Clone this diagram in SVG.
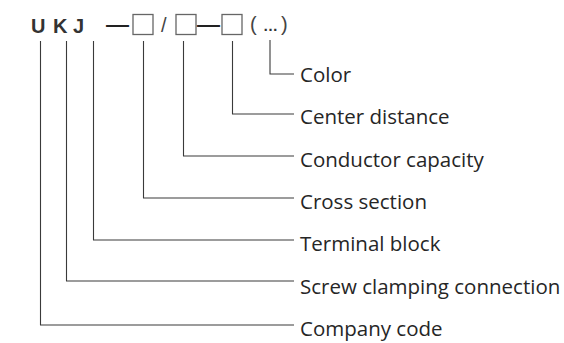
<svg xmlns="http://www.w3.org/2000/svg" width="564" height="343" viewBox="0 0 564 343">
<style>
.lbl{font-family:"Open Sans","Liberation Sans",sans-serif;font-size:20.5px;fill:#262626}
.code{font-family:"Liberation Sans",Arial,sans-serif;font-size:20px;font-weight:bold;fill:#333}
.sym{font-family:"Liberation Sans",Arial,sans-serif;font-size:20px;fill:#444}
.box{fill:none;stroke:#666;stroke-width:1.3}
.conn{fill:none;stroke:#3a3a3a;stroke-width:1.1}
</style>
<rect width="564" height="343" fill="#fff"/>
<g id="code">
<text class="code" x="31" y="32.5">U</text>
<text class="code" x="53" y="32.5">K</text>
<text class="code" x="73" y="32.5">J</text>
<text class="sym" x="106" y="31" textLength="23" lengthAdjust="spacingAndGlyphs" style="font-weight:bold;fill:#222">—</text>
<rect class="box" x="133" y="14.5" width="20" height="20"/>
<text class="sym" x="161" y="32">/</text>
<rect class="box" x="176" y="14.5" width="20" height="20"/>
<text class="sym" x="197" y="31" textLength="23" lengthAdjust="spacingAndGlyphs" style="font-weight:bold;fill:#222">—</text>
<rect class="box" x="222" y="14.5" width="20" height="20"/>
<text class="sym" x="250" y="31">(</text>
<text class="sym" x="263" y="31" style="font-size:15px;font-weight:bold;fill:#333">…</text>
<text class="sym" x="281" y="31">)</text>
</g>
<g id="connectors">
<path class="conn" d="M270,40 V74 H294"/>
<path class="conn" d="M232.5,41 V114 H294"/>
<path class="conn" d="M183.5,41 V156 H294"/>
<path class="conn" d="M143.5,41 V198 H294"/>
<path class="conn" d="M93.5,41 V240 H294"/>
<path class="conn" d="M66.5,41 V281 H294"/>
<path class="conn" d="M40.5,41 V325 H294"/>
</g>
<g id="n-color"><text class="lbl" x="300" y="82">Color</text></g>
<g id="n-center"><text class="lbl" x="300" y="124.3">Center distance</text></g>
<g id="n-conductor"><text class="lbl" x="300" y="166.6">Conductor capacity</text></g>
<g id="n-cross"><text class="lbl" x="300" y="208.9">Cross section</text></g>
<g id="n-terminal"><text class="lbl" x="300" y="251.2">Terminal block</text></g>
<g id="n-screw"><text class="lbl" x="300" y="293.5">Screw clamping connection</text></g>
<g id="n-company"><text class="lbl" x="300" y="335.8">Company code</text></g>
</svg>
